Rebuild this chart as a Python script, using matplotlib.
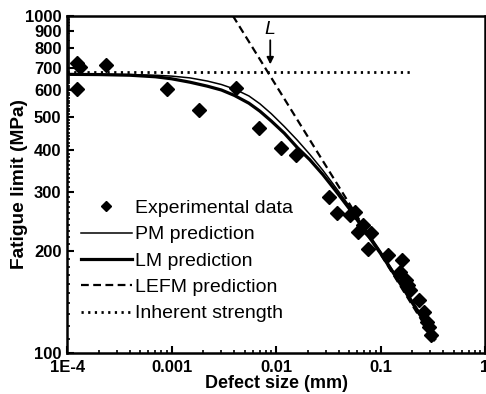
import numpy as np
import matplotlib
matplotlib.use('Agg')
import matplotlib.pyplot as plt
from matplotlib.ticker import FixedLocator, FixedFormatter, LogLocator, NullFormatter

plt.rcParams['font.family'] = ['Liberation Sans', 'DejaVu Sans']

# experimental data (defect size mm, fatigue limit MPa)
exp_size = [1.24e-4, 1.33e-4, 2.35e-4, 1.24e-4, 9.0e-4, 1.83e-3, 4.18e-3, 6.8e-3,
            0.0112, 0.0155, 0.0319, 0.0385, 0.0509, 0.0568, 0.0606, 0.0676,
            0.0811, 0.0754, 0.117, 0.159, 0.154, 0.174, 0.184, 0.192,
            0.234, 0.261, 0.280, 0.291, 0.301]
exp_limit = [722, 706, 714, 606, 606, 525, 609, 465,
             406, 386, 290, 260, 256, 261, 228, 239,
             226, 203, 195, 188, 174, 164, 159, 153,
             143, 132, 123, 119, 113]

# predictions
pred_size = [1e-4, 2e-4, 4e-4, 7e-4, 1e-3, 1.5e-3, 2.2e-3, 3e-3, 4e-3, 5.5e-3,
             7e-3, 9e-3, 0.012, 0.016, 0.021, 0.028, 0.037, 0.05, 0.07, 0.1,
             0.14, 0.2, 0.26, 0.33]
pm_limit = [671, 670, 669, 666, 662, 654, 640, 625, 606, 578,
            548, 512, 469, 427, 388, 348, 310, 273, 235, 200,
            170, 143, 126, 112]
lm_limit = [670, 669, 666, 659, 650, 635, 618, 602, 580, 550,
            521, 487, 448, 406, 374, 338, 303, 268, 231, 197,
            168, 141, 124, 110]

lefm_size = [0.00386, 0.33]
lefm_limit = [1000, 108]

inherent_size = [1e-4, 0.19]
inherent_limit = [680, 680]

fig = plt.figure(figsize=(4.86, 3.94), dpi=100)
ax = fig.add_axes([0.138, 0.105, 0.860, 0.855])

ax.plot(exp_size, exp_limit, 'D', color='black', markersize=7, label='Experimental data')
ax.plot(pred_size, pm_limit, '-', color='black', lw=1.1, label='PM prediction')
ax.plot(pred_size, lm_limit, '-', color='black', lw=2.3, label='LM prediction')
ax.plot(lefm_size, lefm_limit, '--', color='black', lw=1.6, dashes=(3.5, 2), label='LEFM prediction')
ax.plot(inherent_size, inherent_limit, color='black', lw=2.0, linestyle=(0, (0.8, 1.6)),
        label='Inherent strength')

ax.annotate('', xy=(0.0088, 704), xytext=(0.0088, 862),
            arrowprops=dict(arrowstyle='-|>', color='black', lw=1.3, mutation_scale=10))
ax.text(0.0087, 912, 'L', style='italic', fontsize=14, ha='center', va='center')

ax.set_xscale('log')
ax.set_yscale('log')
ax.set_xlim(1e-4, 1)
ax.set_ylim(100, 1000)

xt = [1e-4, 1e-3, 1e-2, 1e-1, 1]
ax.xaxis.set_major_locator(FixedLocator(xt))
ax.xaxis.set_major_formatter(FixedFormatter(['1E-4', '0.001', '0.01', '0.1', '1']))
ax.xaxis.set_minor_locator(LogLocator(base=10, subs=np.arange(2, 10)))
ax.xaxis.set_minor_formatter(NullFormatter())

yt = [100, 200, 300, 400, 500, 600, 700, 800, 900, 1000]
ax.yaxis.set_major_locator(FixedLocator(yt))
ax.yaxis.set_major_formatter(FixedFormatter([str(v) for v in yt]))
ax.yaxis.set_minor_locator(FixedLocator([v for v in range(110, 1000, 10) if v % 100 != 0]))
ax.yaxis.set_minor_formatter(NullFormatter())

ax.tick_params(which='both', direction='in', top=False, right=False)
ax.tick_params(which='major', length=5, width=1.5, labelsize=12)
ax.tick_params(axis='x', which='major', pad=5)
ax.tick_params(axis='y', which='major', pad=4)
ax.tick_params(which='minor', length=2.5, width=1.2)
for lab in ax.get_xticklabels() + ax.get_yticklabels():
    lab.set_fontweight('bold')
for sp in ax.spines.values():
    sp.set_linewidth(1.8)

ax.set_xlabel('Defect size (mm)', fontsize=13, fontweight='bold', labelpad=0)
ax.set_ylabel('Fatigue limit (MPa)', fontsize=13.8, fontweight='bold')
ax.yaxis.set_label_coords(-0.094, 0.5)

leg = ax.legend(loc='upper left', bbox_to_anchor=(0.015, 0.478), frameon=False,
                fontsize=14, handlelength=2.6, handletextpad=0.15, labelspacing=0.45,
                markerscale=0.7, borderaxespad=0)

fig.savefig('out.png', dpi=100)
